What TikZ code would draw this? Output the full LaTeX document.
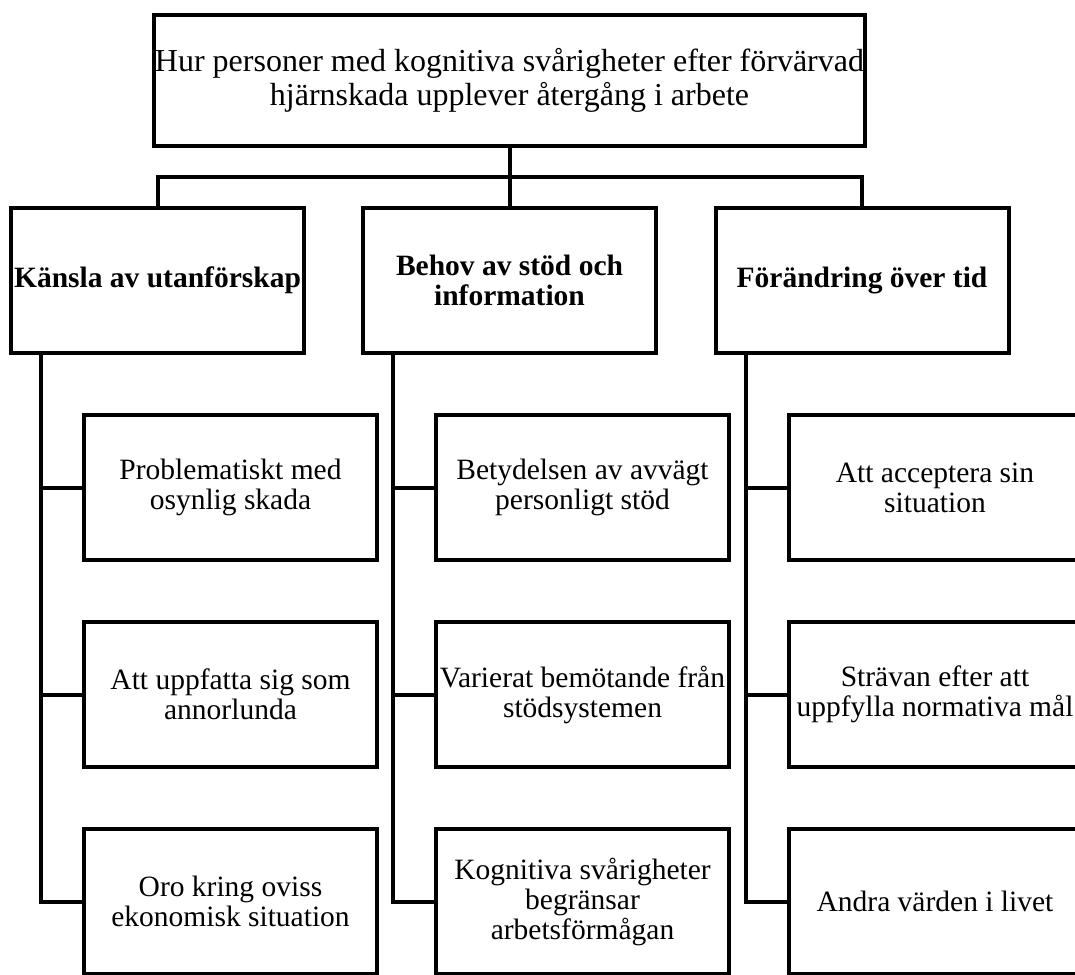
\documentclass[tikz,border=0pt]{standalone}
\usepackage{fontspec}
\setmainfont{Liberation Serif}
\usetikzlibrary{positioning,calc,math}
\tikzset{
    box/.style={draw, line width=4pt, outer sep=0pt, inner sep=0pt, align=center,
        minimum width=293pt, minimum height=145pt},
    topbox/.style={box, minimum width=711pt, minimum height=131pt,
        font=\fontsize{32}{34}\selectfont},
    catbox/.style={box, font=\fontsize{29.5}{30}\selectfont\bfseries},
    subbox/.style={box, font=\fontsize{29.5}{30}\selectfont},
}

\begin{document}
\begin{tikzpicture}[
    x=1pt, y=-1pt,
    line width=4pt,
    node distance=62pt,
  ]

  \tikzmath{
    \spineoff = 30; % distance of the spine from the left side of a box
    \subshift = 73; % shift of the sub boxes to the right of their box
  }

  \useasboundingbox (0,0) rectangle (1075,974);

  % --------
  % Top node
  % --------
  \node[topbox] (top) at (509.5,80.5)
    {Hur personer med kognitiva svårigheter efter förvärvad\\hjärnskada upplever återgång i arbete};

  % ----------
  % Categories
  % ----------
  \node[catbox] (kansla) at (157.5,280.5) {Känsla av utanförskap};
  \node[catbox] (behov)  at (509.5,280.5) {Behov av stöd och\\information};
  \node[catbox] (forand) at (862,280.5)   {Förändring över tid};

  % Bus from the top node to the categories
  \coordinate (bus) at ($(top.south)!0.5!(behov.north)$);
  \draw (top.south) -- (behov.north);
  \draw (kansla.north) -- (kansla.north |- bus) -- (forand.north |- bus) -- (forand.north);

  % -------------
  % First column
  % -------------
  \node[subbox, below=of kansla, xshift=\subshift pt] (osynlig) {Problematiskt med\\osynlig skada};
  \node[subbox, below=of osynlig] (annorlunda) {Att uppfatta sig som\\annorlunda};
  \node[subbox, below=of annorlunda] (ekonomi) {Oro kring oviss\\ekonomisk situation};

  \coordinate (kspine) at ($(kansla.south west)+(\spineoff,0)$);
  \draw (kspine) |- (ekonomi.west);
  \draw (kspine |- osynlig.west) -- (osynlig.west);
  \draw (kspine |- annorlunda.west) -- (annorlunda.west);

  % -------------
  % Second column
  % -------------
  \node[subbox, below=of behov, xshift=\subshift pt] (avvagt) {Betydelsen av avvägt\\personligt stöd};
  \node[subbox, below=of avvagt] (bemotande) {Varierat bemötande från\\stödsystemen};
  \node[subbox, below=of bemotande] (formaga) {Kognitiva svårigheter\\begränsar\\arbetsförmågan};

  \coordinate (bspine) at ($(behov.south west)+(\spineoff,0)$);
  \draw (bspine) |- (formaga.west);
  \draw (bspine |- avvagt.west) -- (avvagt.west);
  \draw (bspine |- bemotande.west) -- (bemotande.west);

  % ------------
  % Third column
  % ------------
  \node[subbox, below=of forand, xshift=\subshift pt] (acceptera) {Att acceptera sin\\situation};
  \node[subbox, below=of acceptera] (normativa) {Strävan efter att\\uppfylla normativa mål};
  \node[subbox, below=of normativa] (varden) {Andra värden i livet};

  \coordinate (fspine) at ($(forand.south west)+(\spineoff,0)$);
  \draw (fspine) |- (varden.west);
  \draw (fspine |- acceptera.west) -- (acceptera.west);
  \draw (fspine |- normativa.west) -- (normativa.west);

\end{tikzpicture}
\end{document}
